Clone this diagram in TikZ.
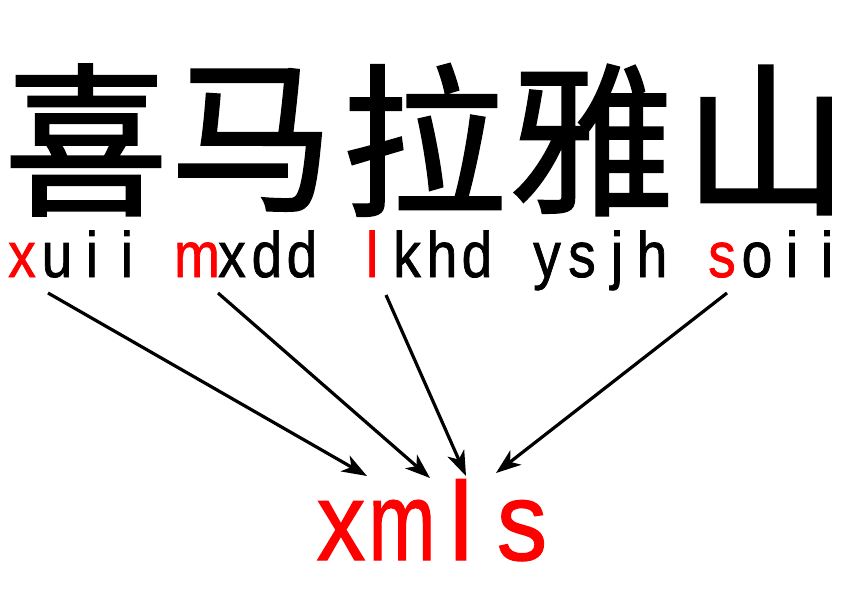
\documentclass[tikz,border=0pt]{standalone}
\usepackage{fontspec}
\setmainfont{Liberation Sans}[FakeBold=1.2]
\newfontfamily\cjk{Noto Sans CJK SC}[FakeBold=1.6]
\newfontfamily\latn{Liberation Sans}[FakeBold=1.2]
\usetikzlibrary{arrows.meta}
\begin{document}
\begin{tikzpicture}[x=1pt,y=-1pt,
 han/.style={font=\cjk\fontsize{164}{164}\selectfont, inner sep=0pt, anchor=center},
 py/.style={font=\latn\fontsize{60}{60}\selectfont, inner sep=0pt, anchor=base},
 ab/.style={font=\latn\fontsize{106}{106}\selectfont, inner sep=0pt, anchor=base, text=red},
 arr/.style={line width=3.2pt, -{Stealth[length=25pt,width=18pt,inset=7pt]}}]
\useasboundingbox (0,0) rectangle (843,596);
% Chinese characters
\node[han] (h1) at (86,140) {喜};
\node[han] (h2) at (252,140) {马};
\node[han] (h3) at (424,140) {拉};
\node[han] (h4) at (592,140) {雅};
\node[han] (h5) at (766,140) {山};
% pinyin row
\foreach \c/\k/\col in {x/0/red,u/1/black,i/2/black,i/3/black,
  m/5/red,x/6/black,d/7/black,d/8/black,
  l/10/red,k/11/black,h/12/black,d/13/black,
  y/15/black,s/16/black,j/17/black,h/18/black,
  s/20/red,o/21/black,i/22/black,i/23/black}{
  \node[py,text=\col] (p\k) at ({22+35*\k},277) {\scalebox{\ifx m\c 0.8\else 0.92\fi}[1.07]{\c}};
}
% abbreviation
\node[ab] (ax) at (341,560) {\scalebox{0.92}[1.05]{x}};
\node[ab] (am) at (402,560) {\scalebox{0.76}[1.05]{m}};
\node[ab] (al) at (461,560) {\scalebox{1}[1.05]{l}};
\node[ab] (as) at (522,560) {\scalebox{0.95}[1.05]{s}};
% arrows
\coordinate (s1) at (48,293);
\coordinate (s2) at (218,293);
\coordinate (s3) at (386,295);
\coordinate (s4) at (727,293);
\coordinate (e1) at (367,476);
\coordinate (e2) at (430,478);
\coordinate (e3) at (466,476);
\coordinate (e4) at (496,473);
\draw[arr] (s1) -- (e1);
\draw[arr] (s2) -- (e2);
\draw[arr] (s3) -- (e3);
\draw[arr] (s4) -- (e4);
\end{tikzpicture}
\end{document}
